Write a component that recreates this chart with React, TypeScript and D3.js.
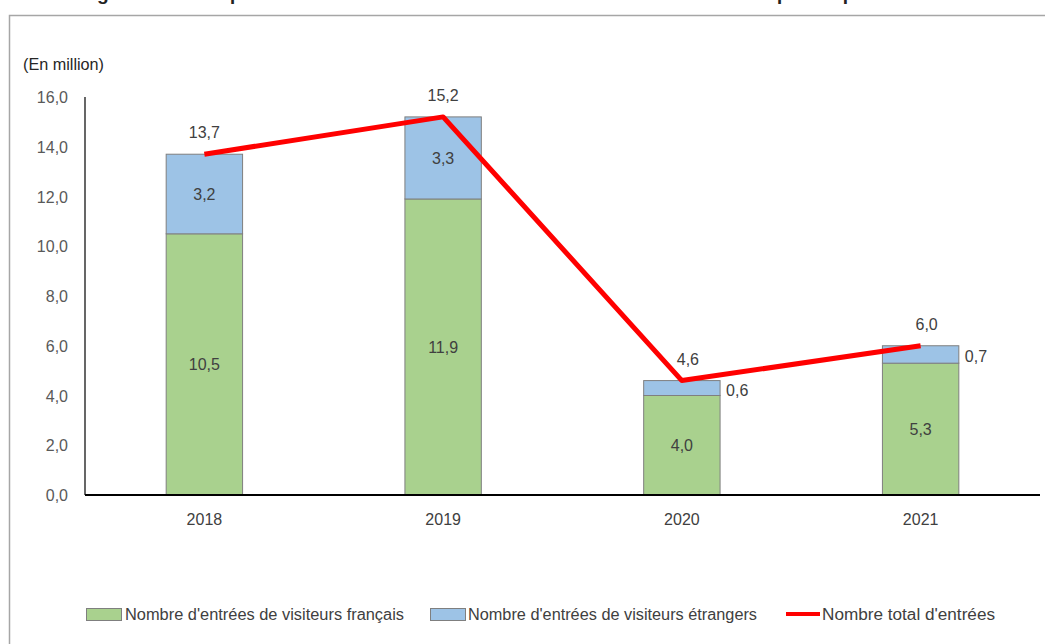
import React from 'react';
import * as d3 from 'd3';

const years = ['2018', '2019', '2020', '2021'];
const french = [10.5, 11.9, 4.0, 5.3];
const foreign = [3.2, 3.3, 0.6, 0.7];
const totals = [13.7, 15.2, 4.6, 6.0];
const yTicks = [0, 2, 4, 6, 8, 10, 12, 14, 16];
const outsideForeign = [false, false, true, true];
const legendLabels = [
  "Nombre d'entrées de visiteurs français",
  "Nombre d'entrées de visiteurs étrangers",
  "Nombre total d'entrées",
];
const titleText = 'Figure 1 : La fréquentation des musées nationaux et des monuments historiques depuis 2018';

const fmt = (v: number) => d3.format('.1f')(v).replace('.', ',');

const FONT = "'Liberation Sans', Arial, sans-serif";

export default function App() {
  const W = 1045, H = 644;
  const x = d3.scaleBand<string>().domain(years).range([85, 1040]).paddingInner(0.68).paddingOuter(0.34);
  const y = d3.scaleLinear().domain([0, 16]).range([495, 97]);
  const bw = x.bandwidth();
  const cx = (d: string) => (x(d) as number) + bw / 2;
  const line = d3.line<number>().x((_, i) => cx(years[i])).y((d) => y(d));

  return (
    <svg width={W} height={H} style={{ position: 'absolute', left: 0, top: 0, background: '#fff' }} fontFamily={FONT}>
      <rect x={0} y={0} width={W} height={H} fill="#fff" />
      <text x={80} y={0} fontSize={19} fontWeight="bold" fill="#222" textLength={850} lengthAdjust="spacingAndGlyphs">{titleText}</text>
      <rect x={9.5} y={15.5} width={W + 10} height={H + 10} fill="none" stroke="#a6a6a6" strokeWidth={1.5} />
      <text x={23} y={70} fontSize={16} fill="#262626" textLength={81} lengthAdjust="spacingAndGlyphs">(En million)</text>

      {yTicks.map((t) => (
        <text key={t} x={68} y={y(t) + 6} fontSize={16} fill="#595959" textAnchor="end">{fmt(t)}</text>
      ))}

      {years.map((yr, i) => {
        const x0 = x(yr) as number;
        const yF = y(french[i]);
        const yT = y(french[i] + foreign[i]);
        return (
          <g key={yr}>
            <rect x={x0} y={yF} width={bw} height={y(0) - yF} fill="#a9d18e" stroke="#7f7f7f" strokeWidth={1} />
            <rect x={x0} y={yT} width={bw} height={yF - yT} fill="#9dc3e6" stroke="#7f7f7f" strokeWidth={1} />
            <text x={cx(yr)} y={(y(0) + yF) / 2 + 6} fontSize={16} fill="#404040" textAnchor="middle">{fmt(french[i])}</text>
            {outsideForeign[i] ? (
              <text x={x0 + bw + 6} y={(yF + yT) / 2 + 8} fontSize={16} fill="#404040">{fmt(foreign[i])}</text>
            ) : (
              <text x={cx(yr)} y={(yF + yT) / 2 + 6} fontSize={16} fill="#404040" textAnchor="middle">{fmt(foreign[i])}</text>
            )}
            <text x={cx(yr)} y={(y(0) + 30)} fontSize={16} fill="#404040" textAnchor="middle">{yr}</text>
          </g>
        );
      })}

      <line x1={85} x2={85} y1={97} y2={495} stroke="#000" strokeWidth={1.2} />
      <line x1={85} x2={1040} y1={495} y2={495} stroke="#000" strokeWidth={2} />

      <path d={line(totals) as string} fill="none" stroke="#ff0000" strokeWidth={5} strokeLinejoin="round" />
      {totals.map((t, i) => (
        <text key={i} x={cx(years[i]) + (outsideForeign[i] ? 6 : 0)} y={y(t) - 16} fontSize={16} fill="#404040" textAnchor="middle">{fmt(t)}</text>
      ))}

      <g>
        <rect x={86.5} y={608.5} width={35} height={12} fill="#a9d18e" stroke="#7f7f7f" />
        <text x={125} y={620} fontSize={16} fill="#404040" textLength={279} lengthAdjust="spacingAndGlyphs">{legendLabels[0]}</text>
        <rect x={430.5} y={608.5} width={35} height={12} fill="#9dc3e6" stroke="#7f7f7f" />
        <text x={468} y={620} fontSize={16} fill="#404040" textLength={289} lengthAdjust="spacingAndGlyphs">{legendLabels[1]}</text>
        <line x1={786} x2={820} y1={614} y2={614} stroke="#ff0000" strokeWidth={4} />
        <text x={822} y={620} fontSize={16} fill="#404040" textLength={173} lengthAdjust="spacingAndGlyphs">{legendLabels[2]}</text>
      </g>
    </svg>
  );
}
